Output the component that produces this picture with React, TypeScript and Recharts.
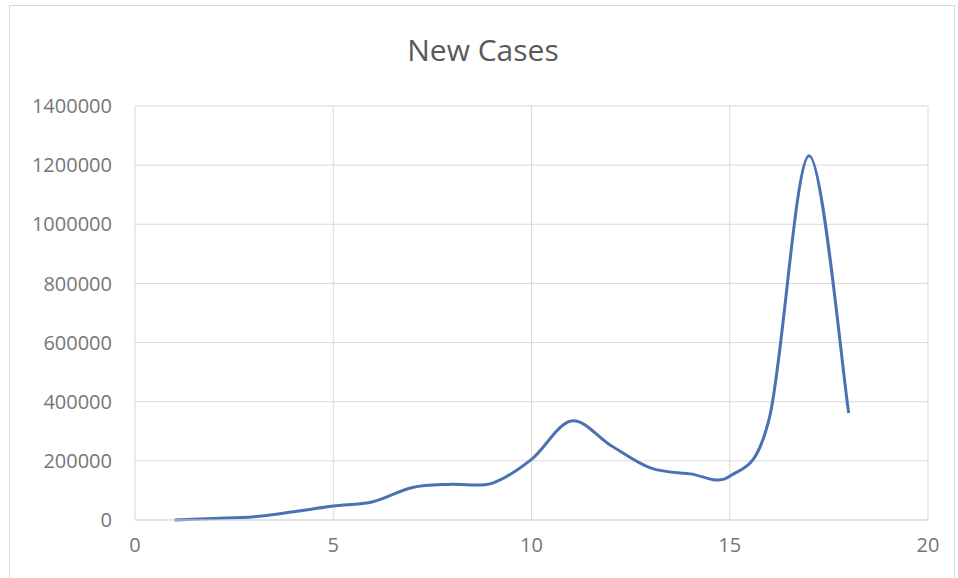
import { LineChart, Line, XAxis, YAxis, CartesianGrid } from "recharts";

const days = [1, 2, 3, 4, 5, 6, 7, 8, 9, 10, 11, 12, 13, 14, 15, 16, 17, 18];
const newCases = [
  0, 5000, 11000, 28000, 47000, 62000, 110000, 121000, 124000, 205000, 335000,
  252000, 176000, 156000, 148000, 345000, 1232000, 362000,
];
const xTicks = [0, 5, 10, 15, 20];
const yTicks = [0, 200000, 400000, 600000, 800000, 1000000, 1200000, 1400000];

const data = days.map((d, i) => ({ day: d, cases: newCases[i] }));

// Excel-style smoothed line (Catmull-Rom through the points)
const smoothCurve = (ctx: any) => {
  let pts: number[][] = [];
  return {
    areaStart() {},
    areaEnd() {},
    lineStart() {
      pts = [];
    },
    point(x: number, y: number) {
      pts.push([+x, +y]);
    },
    lineEnd() {
      if (!pts.length) return;
      ctx.moveTo(pts[0][0], pts[0][1]);
      for (let i = 0; i < pts.length - 1; i++) {
        const p0 = pts[i - 1] || pts[i];
        const p1 = pts[i];
        const p2 = pts[i + 1];
        const p3 = pts[i + 2] || p2;
        ctx.bezierCurveTo(
          p1[0] + (p2[0] - p0[0]) / 6,
          p1[1] + (p2[1] - p0[1]) / 6,
          p2[0] - (p3[0] - p1[0]) / 6,
          p2[1] - (p3[1] - p1[1]) / 6,
          p2[0],
          p2[1]
        );
      }
    },
  };
};

const tickStyle = { fill: "#767676", fontSize: 20, fontFamily: "Open Sans" };

export default function App() {
  return (
    <div
      style={{
        position: "absolute",
        left: 0,
        top: 0,
        width: 958,
        height: 578,
        overflow: "hidden",
        background: "#fff",
      }}
    >
      <div
        style={{
          position: "absolute",
          left: 9,
          top: 5,
          width: 944,
          height: 620,
          border: "1px solid #d9d9d9",
        }}
      />
      <div
        style={{
          position: "absolute",
          left: 0,
          top: 29,
          width: 966,
          textAlign: "center",
          fontFamily: "Open Sans",
          fontSize: 30,
          color: "#595959",
          lineHeight: "42px",
        }}
      >
        New Cases
      </div>
      <LineChart
        width={958}
        height={578}
        data={data}
        margin={{ top: 106, right: 30, left: 0, bottom: 0 }}
        style={{ position: "absolute", left: 0, top: 0 }}
      >
        <CartesianGrid stroke="#d9d9d9" />
        <XAxis
          dataKey="day"
          type="number"
          domain={[0, 20]}
          ticks={xTicks}
          height={58}
          tick={tickStyle}
          tickLine={false}
          tickSize={0}
          tickMargin={18}
          axisLine={{ stroke: "#d9d9d9" }}
        />
        <YAxis
          type="number"
          domain={[0, 1400000]}
          ticks={yTicks}
          width={135}
          tick={tickStyle}
          tickLine={false}
          tickSize={0}
          tickMargin={23}
          axisLine={false}
        />
        <Line
          dataKey="cases"
          type={smoothCurve as any}
          stroke="#4a72b0"
          strokeWidth={3}
          dot={false}
          isAnimationActive={false}
        />
      </LineChart>
    </div>
  );
}
